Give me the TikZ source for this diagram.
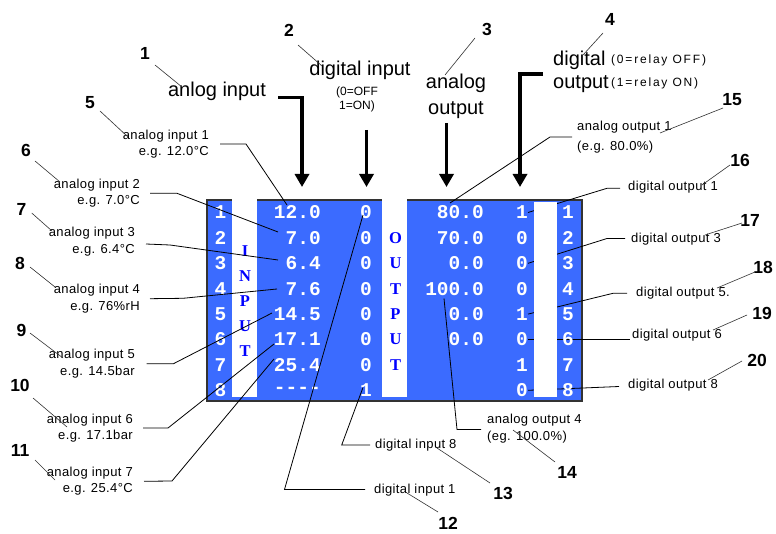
\documentclass[tikz,border=0pt]{standalone}
\usepackage{fontspec}
\setmainfont{Liberation Sans}
\newfontfamily\annfont{Liberation Sans}[LetterSpace=3]
\newfontfamily\smallspaced{Liberation Sans}[LetterSpace=15]
\newfontfamily\valfont{Liberation Mono}
\newfontfamily\letfont{Liberation Serif}
\usetikzlibrary{arrows.meta}
\definecolor{scr}{RGB}{59,107,255}
\definecolor{leadc}{RGB}{50,50,50}
\begin{document}
\begin{tikzpicture}[x=1pt,y=-1pt,
 num/.style={inner sep=0pt,font=\fontsize{17.5}{17.5}\selectfont\bfseries},
 ann/.style={inner sep=0pt,font=\annfont\fontsize{13}{16.5}\selectfont},
 ttl/.style={inner sep=0pt,font=\fontsize{20}{26}\selectfont},
 val/.style={inner sep=0pt,text=white,font=\valfont\bfseries\fontsize{19.5}{20}\selectfont},
 lett/.style={inner sep=0pt,text=blue,font=\letfont\bfseries\fontsize{16.5}{17}\selectfont},
 leader/.style={draw=leadc,line width=0.6pt},
 conn/.style={draw=black,line width=0.8pt},
 big/.style={line width=3.8pt,-{Triangle[width=14pt,length=13pt]}},
 strip/.style={fill=white,draw=none}]
\useasboundingbox (0,0) rectangle (776,534);
\fill[white] (0,0) rectangle (776,534);

% ---------- titles ----------
\node[num] (n1) at (145,53) {1};
\node[ttl] (t1) at (217,91) {anlog input};
\node[num] (n2) at (289,30) {2};
\node[ttl] (t2) at (360,70) {digital input};
\node[inner sep=0pt,align=center,font=\fontsize{12}{14.5}\selectfont] (t2b) at (357,99.5) {(0=OFF\\1=ON)};
\node[num] (n3) at (487,29) {3};
\node[ttl,align=center] (t3) at (456,96) {analog\\output};
\node[num] (n4) at (610,19) {4};
\node[ttl,align=left,anchor=west,font=\fontsize{20}{23}\selectfont] (t4) at (553,72) {digital\\output};
\node[inner sep=0pt,align=left,anchor=west,font=\smallspaced\fontsize{12}{23}\selectfont] (t4b) at (611,72) {(0=relay OFF)\\(1=relay ON)};

\draw[leader] (155,65) -- (182,87);
\draw[leader] (298,45) -- (322,66);
\draw[leader] (475,38) -- (445,75);
\draw[leader] (603,33) -- (583,55);

\coordinate (a1s) at (278,97.5);
\coordinate (a1e) at (302,187);
\coordinate (a2s) at (366.5,130);
\coordinate (a2e) at (366.5,187);
\coordinate (a3s) at (446.5,123);
\coordinate (a3e) at (446.5,187);
\coordinate (a4s) at (543,74);
\coordinate (a4e) at (520,187);
\draw[big] (a1s) -| (a1e);
\draw[big] (a2s) -- (a2e);
\draw[big] (a3s) -- (a3e);
\draw[big] (a4s) -| (a4e);

% ---------- annotations ----------
\node[ann,anchor=east,align=right] (A1) at (209,144) {analog input 1\\e.g. 12.0°C};
\node[ann,anchor=east,align=right] (A2) at (140,193.3) {analog input 2\\e.g. 7.0°C};
\node[ann,anchor=east,align=right] (A3) at (135,241.7) {analog input 3\\e.g. 6.4°C};
\node[ann,anchor=east,align=right] (A4) at (140,298.5) {analog input 4\\e.g. 76\%rH};
\node[ann,anchor=east,align=right] (A5) at (135,363.7) {analog input 5\\e.g. 14.5bar};
\node[ann,anchor=east,align=right] (A6) at (133,428) {analog input 6\\e.g. 17.1bar};
\node[ann,anchor=east,align=right] (A7) at (133,481.3) {analog input 7\\e.g. 25.4°C};

\node[num] (n5) at (90,103) {5};
\node[num] (n6) at (26,150) {6};
\node[num] (n7) at (21.5,209) {7};
\node[num] (n8) at (20,263) {8};
\node[num] (n9) at (21.5,330) {9};
\node[num] (n10) at (20,385) {10};
\node[num] (n11) at (20,450) {11};
\draw[leader] (100,111) -- (128,137);
\draw[leader] (35,161) -- (60,182);
\draw[leader] (31.7,213) -- (52,231);
\draw[leader] (30,267) -- (55,287);
\draw[leader] (30,333) -- (63,358);
\draw[leader] (33,398) -- (67,427);
\draw[leader] (35,460) -- (55,480);

\node[ann,anchor=west,align=left,font=\annfont\fontsize{13}{19.5}\selectfont] (A15) at (577,137) {analog output 1\\(e.g. 80.0\%)};
\node[ann,anchor=west] (A16) at (628,187.5) {digital output 1};
\node[ann,anchor=west] (A17) at (631,239) {digital output 3};
\node[ann,anchor=west] (A18) at (636,293) {digital output 5.};
\node[ann,anchor=west] (A19) at (632,335) {digital output 6};
\node[ann,anchor=west] (A20) at (628,385) {digital output 8};
\node[ann,anchor=west,align=left] (A14) at (487,428.5) {analog output 4\\(eg. 100.0\%)};
\node[ann,anchor=west] (A13) at (375,445) {digital input 8};
\node[ann,anchor=west] (A12) at (374,490) {digital input 1};

\node[num] (n15) at (732,100) {15};
\node[num] (n16) at (740,160) {16};
\node[num] (n17) at (750,220) {17};
\node[num] (n18) at (763,267) {18};
\node[num] (n19) at (762,313) {19};
\node[num] (n20) at (757,360) {20};
\node[num] (n14) at (567,472) {14};
\node[num] (n13) at (503,493) {13};
\node[num] (n12) at (448,523) {12};
\draw[leader] (723,108) -- (660,133);
\draw[leader] (730,165) -- (702,185);
\draw[leader] (742,223) -- (705,235);
\draw[leader] (755,272) -- (717,288);
\draw[leader] (747,315) -- (713,330);
\draw[leader] (742,361) -- (708,380);
\draw[leader] (513,430) -- (555,462);
\draw[leader] (437,448) -- (490,483);
\draw[leader] (407,493) -- (438,512);

% ---------- screen ----------
\path[fill=scr,draw=black!80,line width=1.2pt] (207,200) rectangle (582,401);

\foreach \v [count=\i] in {1,0,0,0,1,0,1,0}
  \node[val] (do\i) at (522,{212.5+(\i-1)*25.4}) {\v};

% connectors hidden by right strip
\coordinate (c16) at (607,188.3);
\coordinate (c17) at (607,238.5);
\coordinate (c18) at (613,293.3);
\coordinate (c20) at (619,386.5);
\draw[conn] (do1.east) -- (c16) -- ([xshift=-8pt]A16.west |- c16);
\draw[conn] (do3.east) -- (c17) -- ([xshift=-6pt]A17.west |- c17);
\draw[conn] (do5.east) -- (c18) -- ([xshift=-9pt]A18.west |- c18);
\draw[conn] (do6.east) -- ++(102,0);
\draw[conn] (do8.east) -- (c20);

\path[strip] (232,199.4) rectangle (256.5,397);
\path[strip] (382,199.4) rectangle (407,397);
\path[strip] (534,202) rectangle (557,397);

\foreach \i in {1,...,8}{
  \node[val] (ln\i) at (220.5,{212.5+(\i-1)*25.4}) {\i};
  \node[val] (rn\i) at (568,{212.5+(\i-1)*25.4}) {\i};
}
\foreach \v [count=\i] in {12.0,7.0,6.4,7.6,14.5,17.1,25.4}
  \node[val,anchor=east] (ai\i) at (321,{212.5+(\i-1)*25.4}) {\v};
\node[val,anchor=east] (ai8) at (321,{212.5+7*25.4}) {-{}-{}-{}-};
\foreach \v [count=\i] in {0,0,0,0,0,0,0,1}
  \node[val] (di\i) at (366,{212.5+(\i-1)*25.4}) {\v};
\foreach \v [count=\i] in {80.0,70.0,0.0,100.0,0.0,0.0}
  \node[val,anchor=east] (ao\i) at (484,{212.5+(\i-1)*25.4}) {\v};

\foreach \l [count=\i] in {I,N,P,U,T}
  \node[lett] (in\i) at (245,{250.6+(\i-1)*25.2}) {\l};
\foreach \l [count=\i] in {O,U,T,P,U,T}
  \node[lett] (out\i) at (395.5,{212.5+\i*25.4}) {\l};

% ---------- connectors on top ----------
\coordinate (e5) at (287,205);
\coordinate (e6) at (278,232);
\coordinate (s7) at (146,244);
\coordinate (k7) at (170,245);
\coordinate (e7) at (278,260);
\coordinate (s8) at (150,298.7);
\coordinate (k8) at (183,298.3);
\coordinate (e8) at (277,289);
\coordinate (e9) at (272,313);
\coordinate (e10) at (274,344);
\coordinate (e11) at (274,359);
\draw[conn] ([xshift=11pt]A1.east) -- ++(26,0) -- (e5);
\draw[conn] ([xshift=10pt]A2.east) -- ++(27,0) -- (e6);
\draw[conn] (s7) -- (k7) -- (e7);
\draw[conn] (s8) -- (k8) -- (e8);
\draw[conn] ([xshift=11.5pt]A5.east) -- ++(27,0) -- (e9);
\draw[conn] ([xshift=10pt]A6.east) -- ++(25,0) -- (e10);
\draw[conn] ([xshift=11pt]A7.east) -- ++(28,-0.3) -- (e11);

\coordinate (e15) at (450,203);
\coordinate (k15) at (550,137);
\draw[conn] (e15) -- (k15) -- ([xshift=-5pt]A15.west |- k15);
\coordinate (e14) at (444,298.5);
\coordinate (k14) at (457,429.5);
\draw[conn] (e14) -- (k14) -- ([xshift=-6pt]A14.west |- k14);
\coordinate (e13) at (363,387.5);
\coordinate (k13) at (341.7,445);
\draw[conn] (e13) -- (k13) -- ([xshift=-5pt]A13.west);
\coordinate (e12) at (363,215);
\coordinate (k12) at (284.5,489.5);
\draw[conn] (e12) -- (k12) -- ([xshift=-9pt]A12.west |- k12);
\end{tikzpicture}
\end{document}
